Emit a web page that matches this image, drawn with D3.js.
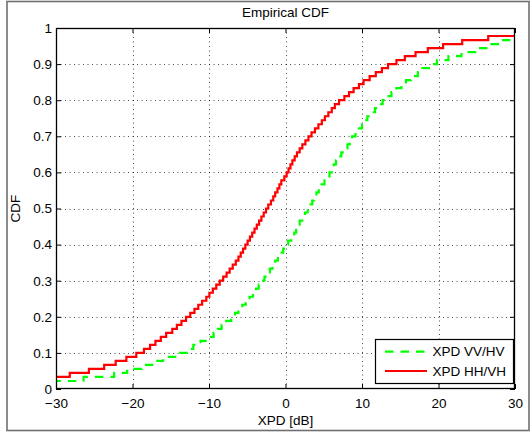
<!DOCTYPE html>
<html>
<head>
<meta charset="utf-8">
<script src="https://cdn.jsdelivr.net/npm/d3@7"></script>
<style>
  html, body { margin: 0; padding: 0; background: #fff; }
  svg { display: block; }
  text { font-family: "Liberation Sans", Arial, Helvetica, sans-serif; fill: #000; }
</style>
</head>
<body>
<svg id="chart" width="532" height="435"></svg>
<script>
// Sorted XPD samples [dB] for each polarisation pair (90 measurements each)
const xpdVvHv = [
  -34, -32, -26.4, -22.4, -20.7, -18.8, -17.0, -16.0, -13.8, -12.7,
  -12.05, -11.1, -10.2, -9.4, -8.85, -8.35, -7.75, -7.1, -6.6, -6.15,
  -5.65, -5.2, -4.7, -4.25, -3.85, -3.5, -3.1, -2.75, -2.4, -2.05,
  -1.7, -1.35, -1.0, -0.65, -0.3, 0.0, 0.35, 0.75, 1.15, 1.4,
  1.6, 1.85, 2.2, 2.55, 2.9, 3.2, 3.5, 3.75, 4.05, 4.35,
  4.7, 5.1, 5.45, 5.75, 6.05, 6.3, 6.6, 6.95, 7.3, 7.7,
  8.1, 8.4, 8.7, 9.15, 9.6, 10.0, 10.35, 10.7, 11.15, 11.7,
  12.2, 12.7, 13.25, 13.85, 14.5, 15.15, 15.75, 16.4, 17.3, 17.9,
  18.75, 19.8, 21.3, 23.0, 24.8, 26.5, 28.2, 31, 32, 34
];
const xpdHhVh = [
  -35, -33, -31, -28.2, -25.7, -23.7, -22.2, -20.8, -19.5, -18.5,
  -17.7, -17.0, -16.3, -15.6, -14.8, -14.2, -13.6, -13.0, -12.45, -11.9,
  -11.4, -10.9, -10.35, -9.95, -9.5, -9.05, -8.6, -8.15, -7.7, -7.3,
  -6.9, -6.5, -6.15, -5.85, -5.55, -5.25, -4.95, -4.65, -4.35, -4.05,
  -3.75, -3.45, -3.15, -2.85, -2.55, -2.25, -1.9, -1.6, -1.35, -1.05,
  -0.8, -0.55, -0.15, 0.15, 0.4, 0.65, 0.9, 1.2, 1.5, 1.85,
  2.2, 2.6, 3.0, 3.4, 3.85, 4.3, 4.75, 5.15, 5.6, 6.05,
  6.45, 7.0, 7.7, 8.3, 8.9, 9.6, 10.2, 11.0, 11.8, 12.6,
  13.4, 14.5, 15.6, 17.0, 18.6, 20.6, 23.1, 26.5, 31, 33
];
const seriesNames = ["XPD VV/HV", "XPD HH/VH"];
const seriesColors = ["#00ff00", "#ff0000"];
const xTicks = [-30, -20, -10, 0, 10, 20, 30];
const yTicks = [0, 0.1, 0.2, 0.3, 0.4, 0.5, 0.6, 0.7, 0.8, 0.9, 1];

const svg = d3.select("#chart");
const FONT = "13.5px";
const plot = { left: 56, right: 515, top: 28, bottom: 389 };

const x = d3.scaleLinear().domain([-30, 30]).range([plot.left, plot.right]);
const y = d3.scaleLinear().domain([0, 1]).range([plot.bottom, plot.top]);

// Figure frame
svg.append("rect")
  .attr("x", 7).attr("y", 1.5).attr("width", 522).attr("height", 429)
  .attr("fill", "none").attr("stroke", "#707070").attr("stroke-width", 1.6);

// Plot background
svg.append("rect")
  .attr("x", plot.left).attr("y", plot.top)
  .attr("width", plot.right - plot.left).attr("height", plot.bottom - plot.top)
  .attr("fill", "#fff");

// Dotted grid
const grid = svg.append("g")
  .attr("stroke", "#000").attr("stroke-opacity", 0.7)
  .attr("stroke-width", 1).attr("stroke-dasharray", "1,3.5");
grid.selectAll(".gx").data(xTicks.slice(1, -1)).join("line")
  .attr("x1", d => Math.round(x(d)) + 0.5).attr("x2", d => Math.round(x(d)) + 0.5)
  .attr("y1", plot.top).attr("y2", plot.bottom);
grid.selectAll(".gy").data(yTicks.slice(1, -1)).join("line")
  .attr("y1", d => Math.round(y(d)) + 0.5).attr("y2", d => Math.round(y(d)) + 0.5)
  .attr("x1", plot.left).attr("x2", plot.right);

// Empirical CDF step curves
svg.append("clipPath").attr("id", "plot-clip")
  .append("rect")
  .attr("x", plot.left).attr("y", plot.top - 2)
  .attr("width", plot.right - plot.left).attr("height", plot.bottom - plot.top + 2);

const stairs = d3.line()
  .x(d => x(d[0])).y(d => y(d[1]))
  .curve(d3.curveStepAfter);

function ecdf(samples) {
  const s = samples.slice().sort(d3.ascending);
  const n = s.length;
  return s.map((v, i) => [v, (i + 1) / n]);
}

const curves = svg.append("g").attr("clip-path", "url(#plot-clip)").attr("fill", "none");
curves.append("path")
  .attr("d", stairs(ecdf(xpdVvHv)))
  .attr("stroke", seriesColors[0]).attr("stroke-width", 2.2)
  .attr("stroke-dasharray", "8.5,7");
curves.append("path")
  .attr("d", stairs(ecdf(xpdHhVh)))
  .attr("stroke", seriesColors[1]).attr("stroke-width", 2.2);

// Axes with inward ticks on all four sides
const tickLen = 5;
const axB = svg.append("g").attr("transform", `translate(0,${plot.bottom})`)
  .call(d3.axisBottom(x).tickValues(xTicks).tickSizeInner(-tickLen).tickSizeOuter(0).tickPadding(9));
const axT = svg.append("g").attr("transform", `translate(0,${plot.top})`)
  .call(d3.axisTop(x).tickValues(xTicks).tickSizeInner(-tickLen).tickSizeOuter(0).tickFormat(""));
const axL = svg.append("g").attr("transform", `translate(${plot.left},0)`)
  .call(d3.axisLeft(y).tickValues(yTicks).tickSizeInner(-tickLen).tickSizeOuter(0).tickPadding(4)
    .tickFormat(d3.format("")));
const axR = svg.append("g").attr("transform", `translate(${plot.right},0)`)
  .call(d3.axisRight(y).tickValues(yTicks).tickSizeInner(-tickLen).tickSizeOuter(0).tickFormat(""));

[axB, axT, axL, axR].forEach(g => {
  g.select(".domain").remove();
  g.selectAll(".tick line").attr("stroke", "#000").attr("stroke-width", 1);
  g.selectAll("text").attr("font-size", FONT).attr("font-family", null).attr("fill", "#000");
});
axB.selectAll(".tick text").text(d => d < 0 ? "\u2212" + Math.abs(d) : String(d));

// Axes box
svg.append("rect")
  .attr("x", plot.left + 0.5).attr("y", plot.top + 0.5)
  .attr("width", plot.right - plot.left - 1).attr("height", plot.bottom - plot.top - 1)
  .attr("fill", "none").attr("stroke", "#000").attr("stroke-width", 1.3);

// Title and axis labels
svg.append("text")
  .attr("x", (plot.left + plot.right) / 2).attr("y", 17)
  .attr("text-anchor", "middle").attr("font-size", FONT)
  .text("Empirical CDF");
svg.append("text")
  .attr("x", (plot.left + plot.right) / 2).attr("y", 424.5)
  .attr("text-anchor", "middle").attr("font-size", FONT)
  .text("XPD [dB]");
svg.append("text")
  .attr("transform", `translate(19.5,${(plot.top + plot.bottom) / 2}) rotate(-90)`)
  .attr("text-anchor", "middle").attr("font-size", FONT)
  .text("CDF");

// Legend
const legend = svg.append("g");
legend.append("rect")
  .attr("x", 375.5).attr("y", 339.5).attr("width", 138).attr("height", 44)
  .attr("fill", "#fff").attr("stroke", "#000").attr("stroke-width", 1.2);
const legendRows = [351.7, 371];
seriesNames.forEach((name, i) => {
  legend.append("line")
    .attr("x1", 385).attr("x2", 427)
    .attr("y1", legendRows[i]).attr("y2", legendRows[i])
    .attr("stroke", seriesColors[i]).attr("stroke-width", 2.2)
    .attr("stroke-dasharray", i === 0 ? "8.5,7" : null);
  legend.append("text")
    .attr("x", 432.5).attr("y", legendRows[i]).attr("dy", "0.35em")
    .attr("font-size", FONT)
    .text(name);
});
</script>
</body>
</html>
